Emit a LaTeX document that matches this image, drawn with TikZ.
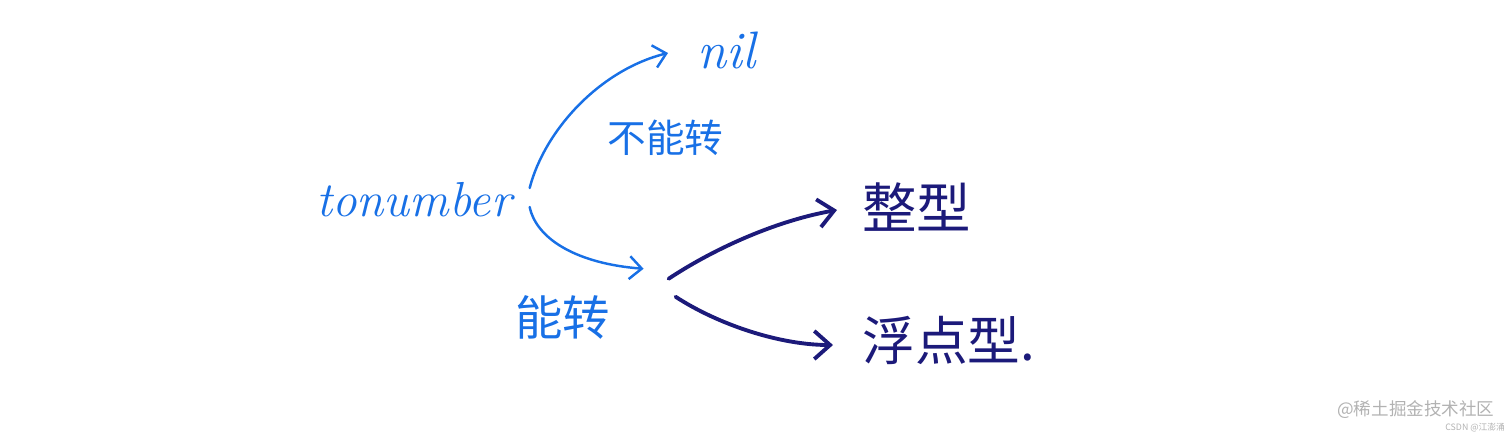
\documentclass[tikz,border=0pt]{standalone}
\usepackage{fontspec}
\newfontfamily\cjk{Noto Sans CJK SC}
\usepackage{tikz}
\usetikzlibrary{arrows.meta}
\definecolor{penblue}{RGB}{24,112,230}
\definecolor{pennavy}{RGB}{28,26,122}
\definecolor{markgray}{RGB}{178,178,178}

\begin{document}
\begin{tikzpicture}[x=0.02cm, y=-0.02cm,
latinword/.style={text=penblue, inner sep=0pt, anchor=west, font=\itshape\fontsize{#1}{#1}\selectfont},
cjkword/.style={text=#1, inner sep=0pt, anchor=west},
bluearrow/.style={draw=penblue, line width=1.4pt, line cap=round, -{Straight Barb[length=7pt, width=13pt, line width=1.4pt]}},
navyarrow/.style={draw=pennavy, line width=2.2pt, line cap=round, -{Straight Barb[length=9pt, width=16pt, line width=2.2pt]}}
]
\useasboundingbox (0,0) rectangle (1512,437);

% Mots
\node[latinword=28] (tonum) at (316,200) {tonumber};
\node[latinword=30] (nil) at (697,50) {nil};
\node[cjkword=penblue, font=\cjk\fontsize{22}{22}\selectfont] (nope) at (607,138) {不能转};
\node[cjkword=penblue, font=\cjk\fontsize{27}{27}\selectfont] (neng) at (515,317) {能转};
\node[cjkword=pennavy, font=\cjk\fontsize{31}{31}\selectfont] (zheng) at (862,207) {整型};
\node[cjkword=pennavy, font=\cjk\fontsize{30}{30}\selectfont] (fu) at (862,340) {浮点型.};

% Filigrane
\node[text=markgray, inner sep=0pt, anchor=west, font=\cjk\fontsize{10}{10}\selectfont] (mark) at (1337,410) {@稀土掘金技术社区};
\node[text=markgray, inner sep=0pt, anchor=west, font=\cjk\fontsize{5}{5}\selectfont] (csdn) at (1445,428) {CSDN @江澎涌};

% Fleches
\draw[bluearrow] ([shift={(18,-12)}]tonum.east) .. controls +(15,-58) and +(-68,17) .. ([shift={(-29,3)}]nil.west);
\draw[bluearrow] ([shift={(18,7)}]tonum.east) .. controls +(7,33) and +(-65,-5) .. ([shift={(33,-26)}]neng.north east);

\draw[navyarrow] ([shift={(58,-16)}]neng.north east) .. controls +(50,-33) and +(-57,10) .. ([shift={(-25,3)}]zheng.west);
\draw[navyarrow] ([shift={(65,2)}]neng.north east) .. controls +(43,28) and +(-53,0) .. ([shift={(-29,5)}]fu.west);

\end{tikzpicture}
\end{document}
